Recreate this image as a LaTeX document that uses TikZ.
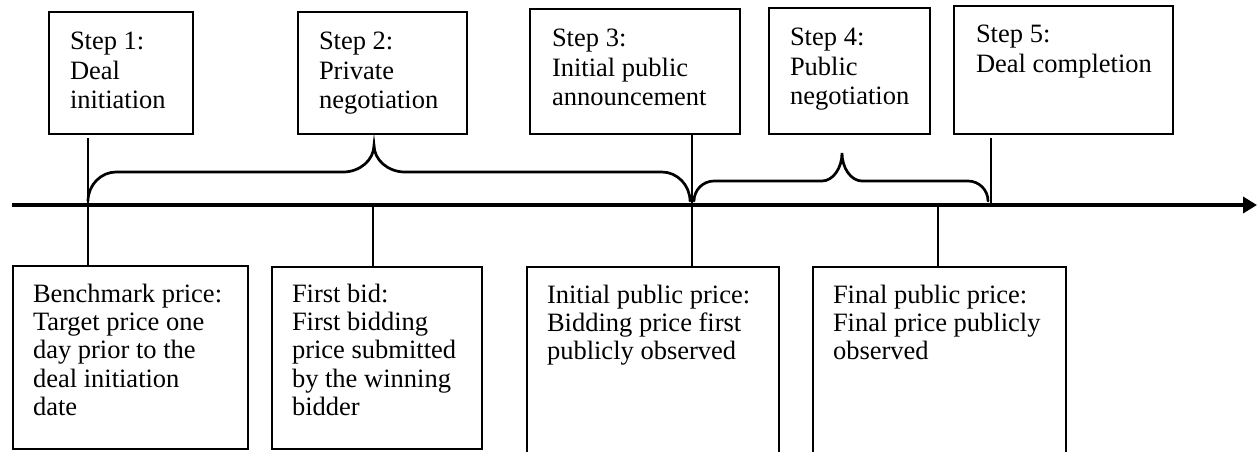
\documentclass[tikz,border=0pt]{standalone}
\usepackage{fontspec}
\setmainfont{Liberation Serif}
\usepackage{tikz}
\usetikzlibrary{arrows.meta}

\tikzset{
  stepbox/.style={draw,line width=1.5pt,inner sep=0pt,outer sep=0pt,anchor=north west},
  steptext/.style={inner sep=0pt,outer sep=0pt,anchor=north west,align=left,font=\fontsize{26.5}{29.5}\selectfont},
  pricetext/.style={steptext,font=\fontsize{26.5}{28.3}\selectfont},
  tick/.style={line width=1.3pt},
  brace/.style={line width=2.7pt,line cap=round},
  timeline/.style={line width=4.5pt,-{Triangle[length=14pt,width=16pt]}},
}

\begin{document}
\begin{tikzpicture}[x=1pt,y=-1pt]
\path[use as bounding box] (0,0) rectangle (1257,451);
\clip (0,0) rectangle (1257,451);
% steps above the line
\node[stepbox,minimum width=144pt,minimum height=122pt] (s1) at (49,12) {};
\node[steptext] (s1txt) at ([xshift=21pt,yshift=-20pt]s1.north west) {Step 1:\\Deal\\initiation};
\node[stepbox,minimum width=169pt,minimum height=122pt] (s2) at (298,12) {};
\node[steptext] (s2txt) at ([xshift=21pt,yshift=-20pt]s2.north west) {Step 2:\\Private\\negotiation};
\node[stepbox,minimum width=210pt,minimum height=125pt] (s3) at (530,9) {};
\node[steptext] (s3txt) at ([xshift=22pt,yshift=-20pt]s3.north west) {Step 3:\\Initial public\\announcement};
\node[stepbox,minimum width=161pt,minimum height=126pt] (s4) at (769,8) {};
\node[steptext] (s4txt) at ([xshift=21pt,yshift=-20pt]s4.north west) {Step 4:\\Public\\negotiation};
\node[stepbox,minimum width=219pt,minimum height=128pt] (s5) at (954,6) {};
\node[steptext] (s5txt) at ([xshift=22pt,yshift=-19pt]s5.north west) {Step 5:\\Deal completion};
% prices below the line
\node[stepbox,minimum width=235pt,minimum height=183pt] (p1) at (13,266) {};
\node[pricetext] (p1txt) at ([xshift=20pt,yshift=-18pt]p1.north west) {Benchmark price:\\Target price one\\day prior to the\\deal initiation\\date};
\node[stepbox,minimum width=210pt,minimum height=182pt] (p2) at (272,267) {};
\node[pricetext] (p2txt) at ([xshift=20pt,yshift=-17pt]p2.north west) {First bid:\\First bidding\\price submitted\\by the winning\\bidder};
\node[stepbox,minimum width=252pt,minimum height=200pt] (p3) at (527,267) {};
\node[pricetext] (p3txt) at ([xshift=20pt,yshift=-18pt]p3.north west) {Initial public price:\\Bidding price first\\publicly observed};
\node[stepbox,minimum width=253pt,minimum height=200pt] (p4) at (813,267) {};
\node[pricetext] (p4txt) at ([xshift=20pt,yshift=-18pt]p4.north west) {Final public price:\\Final price publicly\\observed};
% time line
\coordinate (tl0) at (12,205);
\coordinate (tl1) at (1257,205);
\coordinate (t1) at (88,205);
\coordinate (t2) at (373,205);
\coordinate (t3) at (692,205);
\coordinate (t4) at (938,205);
\coordinate (t5) at (991,205);
\draw[timeline] (tl0) -- (tl1);
\draw[tick,shorten <=4pt] (s1.south -| t1) -- (t1 |- p1.north);
\draw[tick] (t2) -- (t2 |- p2.north);
\draw[tick] (s3.south -| t3) -- (t3 |- p3.north);
\draw[tick] (t4) -- (t4 |- p4.north);
\draw[tick,shorten <=4pt] (s5.south -| t5) -- (t5);
% braces
\draw[brace] (88,201) .. controls (88,185) and (101,172) .. (116,172) -- (343,172)
  .. controls (360,172) and (374,160) .. (374,145) .. controls (374,160) and (388,172) .. (405,172)
  -- (662,172) .. controls (677,172) and (690,185) .. (690,201);
\draw[brace] (694,201) .. controls (694,190) and (703,181) .. (714,181) -- (822,181)
  .. controls (833,181) and (842,168) .. (842,153) .. controls (842,168) and (851,181) .. (862,181)
  -- (968,181) .. controls (979,181) and (988,190) .. (988,201);
\end{tikzpicture}
\end{document}
